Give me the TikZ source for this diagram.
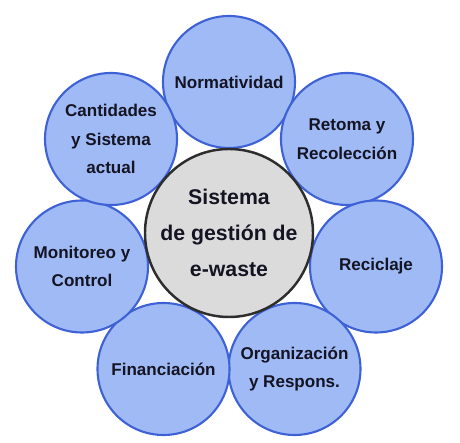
\documentclass[tikz,border=0pt]{standalone}
\usepackage{fontspec}
\setmainfont{Liberation Sans}
\definecolor{cblue}{RGB}{160,186,246}
\definecolor{cbord}{RGB}{62,98,214}
\definecolor{cgray}{RGB}{219,219,219}
\definecolor{cdark}{RGB}{45,45,45}
\definecolor{ctext}{RGB}{20,20,35}

\begin{document}
\begin{tikzpicture}[scale=1]

\useasboundingbox (0,0) rectangle (9.2,8.86);

\begin{scope}[every node/.style={draw=cbord,fill=cblue,circle,minimum size=2.64cm,line width=1.2pt,inner sep=0pt,align=center,text=ctext,font=\bfseries\fontsize{9.7}{16.2}\selectfont}]
\node (norm) at (4.58,7.22) {Normatividad};
\node (reto) at (6.94,6.08) {Retoma y\\Recolección};
\node (reci) at (7.52,3.53) {Reciclaje};
\node (orga) at (5.89,1.48) {Organización\\y Respons.};
\node (fina) at (3.27,1.48) {Financiación};
\node (moni) at (1.64,3.53) {Monitoreo y\\Control};
\node (cant) at (2.22,6.08) {Cantidades\\y Sistema\\actual};
\end{scope}

\node[draw=cdark,fill=cgray,circle,minimum size=3.36cm,line width=1.4pt,inner sep=0pt,align=center,text=ctext,font=\bfseries\fontsize{12.1}{20.7}\selectfont] (hub) at (4.58,4.20) {Sistema\\de gestión de\\e-waste};

\end{tikzpicture}
\end{document}
